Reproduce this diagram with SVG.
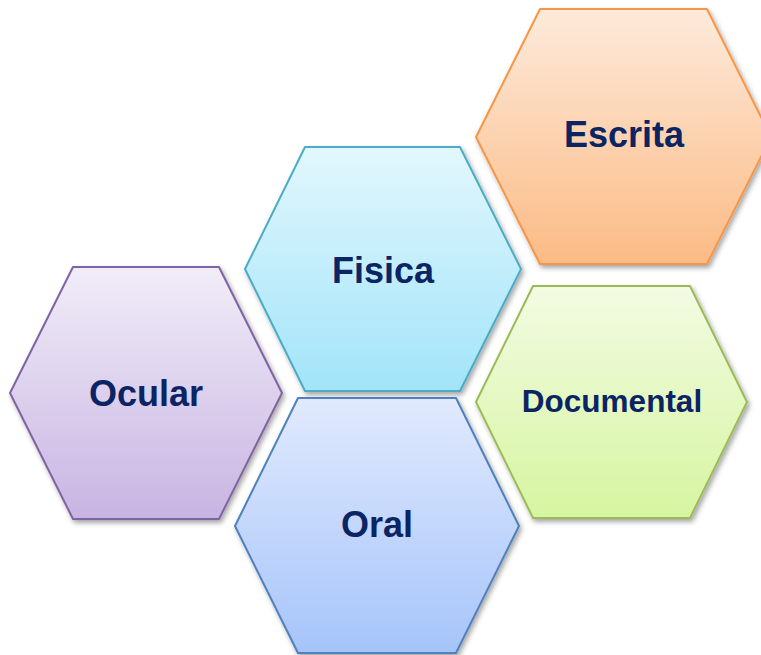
<svg xmlns="http://www.w3.org/2000/svg" width="761" height="655" viewBox="0 0 761 655">
<defs>
<filter id="sh" x="-10%" y="-10%" width="125%" height="125%">
<feDropShadow dx="2" dy="3" stdDeviation="2.5" flood-color="#000" flood-opacity="0.35"/>
</filter>
<linearGradient id="gOrange" x1="0" y1="0" x2="0" y2="1"><stop offset="0" stop-color="#FDEADB"/><stop offset="1" stop-color="#FBBB85"/></linearGradient>
<linearGradient id="gTeal" x1="0" y1="0" x2="0" y2="1"><stop offset="0" stop-color="#E2F7FD"/><stop offset="1" stop-color="#A2E4F9"/></linearGradient>
<linearGradient id="gPurple" x1="0" y1="0" x2="0" y2="1"><stop offset="0" stop-color="#F1EDF8"/><stop offset="1" stop-color="#C8B4E2"/></linearGradient>
<linearGradient id="gGreen" x1="0" y1="0" x2="0" y2="1"><stop offset="0" stop-color="#F3FBE3"/><stop offset="1" stop-color="#D6F5A0"/></linearGradient>
<linearGradient id="gBlue" x1="0" y1="0" x2="0" y2="1"><stop offset="0" stop-color="#E1EAFD"/><stop offset="1" stop-color="#A6C4FA"/></linearGradient>
</defs>
<style>
.hex{stroke-width:2;filter:url(#sh);stroke-linejoin:round}
.lbl{font-family:"Liberation Sans",Arial,sans-serif;font-weight:bold;fill:#0B2463;text-anchor:middle;font-size:36px}
</style>
<g id="escrita">
<polygon class="hex" points="540,9 707,9 771,137 707,264 540,264 476,137" fill="url(#gOrange)" stroke="#F79646"/>
<text class="lbl" x="624" y="147">Escrita</text>
</g>
<g id="fisica">
<polygon class="hex" points="305,147 460,147 521,269 460,391 305,391 245,269" fill="url(#gTeal)" stroke="#4BACC6"/>
<text class="lbl" x="383" y="283">Fisica</text>
</g>
<g id="ocular">
<polygon class="hex" points="73,267 219,267 282,393 219,519 73,519 10,393" fill="url(#gPurple)" stroke="#8064A2"/>
<text class="lbl" x="146" y="406">Ocular</text>
</g>
<g id="documental">
<polygon class="hex" points="533,286 690,286 747,402 690,518 533,518 476,402" fill="url(#gGreen)" stroke="#9BBB59"/>
<text class="lbl" x="612" y="412" style="font-size:31.5px">Documental</text>
</g>
<g id="oral">
<polygon class="hex" points="298,398 456,398 519,526 456,653 298,653 235,526" fill="url(#gBlue)" stroke="#4F81BD"/>
<text class="lbl" x="377" y="537">Oral</text>
</g>
<g id="connectors"></g>
</svg>
